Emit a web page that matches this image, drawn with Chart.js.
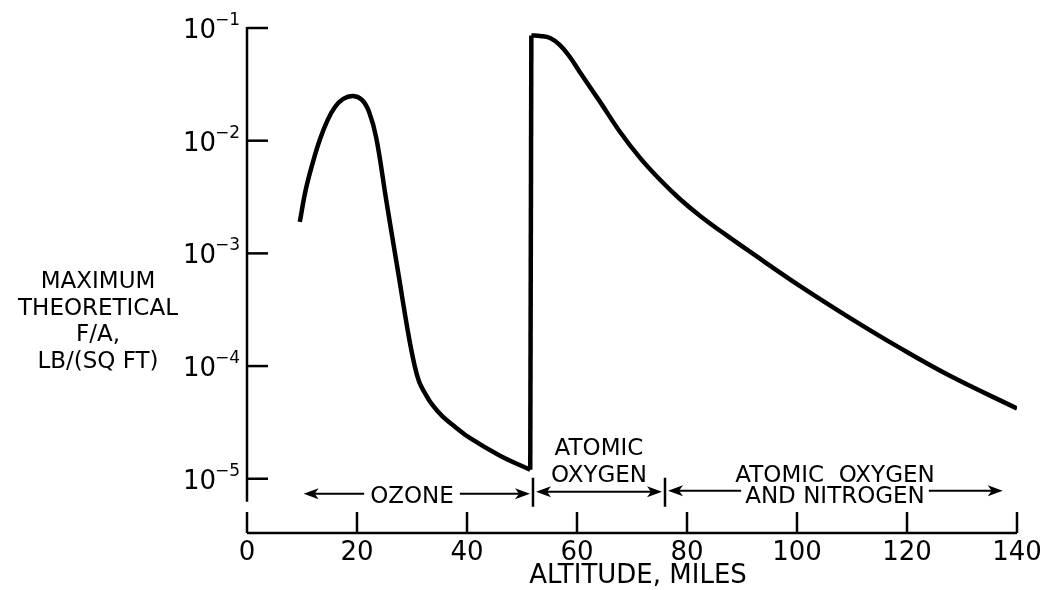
<!DOCTYPE html>
<html>
<head>
<meta charset="utf-8">
<script src="https://cdn.jsdelivr.net/npm/chart.js@4"></script>
<style>
  body { margin: 0; background: #fff; }
  #box { width: 1044px; height: 590px; }
</style>
</head>
<body>
<div id="box"><canvas id="myCanvas"></canvas></div>
<script>
// altitude in miles and maximum theoretical F/A in lb/(sq ft)
let ozoneAltitude = [9.6, 10.7, 12, 13.3, 14.6, 16, 17.5, 19.3, 20.9, 22.2, 23.5, 25.3, 27.5, 29.3, 30.4, 31.3, 32.4, 33.6, 35.5, 37.8, 40.5, 46, 51.5]
let ozoneValue = [1.9e-3, 3.7e-3, 6.5e-3, 0.0104, 0.015, 0.0199, 0.0235, 0.0249, 0.023, 0.018, 0.0106, 3.0e-3, 6.7e-4, 1.97e-4, 1.05e-4, 7.25e-5, 5.7e-5, 4.6e-5, 3.6e-5, 2.9e-5, 2.3e-5, 1.6e-5, 1.2e-5]

let atomicAltitude = [51.7, 53.3, 55.1, 56.9, 58.7, 60.5, 64.2, 67.8, 71.5, 75.1, 78.7, 82.4, 86.9, 91.5, 100.5, 109.6, 118.7, 127.8, 140]
let atomicValue = [0.086, 0.085, 0.0815, 0.0706, 0.0553, 0.0407, 0.0221, 0.012, 7.0e-3, 4.5e-3, 3.04e-3, 2.15e-3, 1.48e-3, 1.03e-3, 5.15e-4, 2.68e-4, 1.45e-4, 8.2e-5, 4.2e-5]

let xTicks = [0, 20, 40, 60, 80, 100, 120, 140]
let yTicks = [1e-1, 1e-2, 1e-3, 1e-4, 1e-5]
let yTickPowers = ["\u22121", "\u22122", "\u22123", "\u22124", "\u22125"]

let yTitle = ["MAXIMUM", "THEORETICAL", "F/A,", "LB/(SQ FT)"]
let xTitle = "ALTITUDE, MILES"

// regions along the altitude axis
let regionNames = [["OZONE"], ["ATOMIC", "OXYGEN"], ["ATOMIC  OXYGEN", "AND NITROGEN"]]
let regionFrom = [10.3, 52, 76]
let regionTo = [52, 76, 137.4]

let font = "'DejaVu Sans', sans-serif"

function arrowHead(ctx, tipX, y, dir) {
    ctx.beginPath()
    ctx.moveTo(tipX, y)
    ctx.lineTo(tipX - dir * 15, y - 5.5)
    ctx.lineTo(tipX - dir * 11, y)
    ctx.lineTo(tipX - dir * 15, y + 5.5)
    ctx.closePath()
    ctx.fill()
}

let axesPlugin = {
    id: "axes",
    afterDraw(chart) {
        let ctx = chart.ctx
        let x = chart.scales.x
        let y = chart.scales.y
        let x0 = x.getPixelForValue(0)
        let bottom = chart.chartArea.bottom
        let yLow = y.getPixelForValue(1e-5)

        ctx.save()
        ctx.strokeStyle = "#000"
        ctx.fillStyle = "#000"
        ctx.lineWidth = 2.5
        ctx.lineCap = "butt"

        // y axis
        ctx.beginPath()
        ctx.moveTo(x0, y.getPixelForValue(0.1) - 1)
        ctx.lineTo(x0, yLow + 23)
        ctx.stroke()
        yTicks.forEach(function (v, i) {
            let py = y.getPixelForValue(v)
            ctx.beginPath()
            ctx.moveTo(x0, py)
            ctx.lineTo(x0 + 21, py)
            ctx.stroke()
            ctx.font = "26px " + font
            ctx.textAlign = "right"
            ctx.textBaseline = "alphabetic"
            ctx.fillText("10", x0 - 31, py + 10)
            ctx.font = "17px " + font
            ctx.textAlign = "left"
            ctx.fillText(yTickPowers[i], x0 - 32, py - 3)
        })

        // x axis
        ctx.beginPath()
        ctx.moveTo(x0, bottom)
        ctx.lineTo(x.getPixelForValue(140), bottom)
        ctx.stroke()
        xTicks.forEach(function (v) {
            let px = x.getPixelForValue(v)
            ctx.beginPath()
            ctx.moveTo(px, bottom - 21)
            ctx.lineTo(px, bottom)
            ctx.stroke()
            ctx.font = "26px " + font
            ctx.textAlign = "center"
            ctx.textBaseline = "alphabetic"
            ctx.fillText(String(v), px, bottom + 27)
        })

        // titles
        ctx.font = "26px " + font
        ctx.textAlign = "center"
        ctx.fillText(xTitle, 638, bottom + 50)
        ctx.font = "23px " + font
        yTitle.forEach(function (t, i) {
            ctx.fillText(t, 98, 288 + i * 26.7)
        })

        // regions with arrows
        let arrowY = [yLow + 15, yLow + 13, yLow + 12]
        ctx.lineWidth = 2
        ctx.font = "23px " + font
        regionNames.forEach(function (names, i) {
            let a = x.getPixelForValue(regionFrom[i])
            let b = x.getPixelForValue(regionTo[i])
            let ay = arrowY[i]
            if (i > 0) {
                ctx.lineWidth = 2.5
                ctx.beginPath()
                ctx.moveTo(a, yLow - 1)
                ctx.lineTo(a, yLow + 28)
                ctx.stroke()
                ctx.lineWidth = 2
                a += 3
            }
            if (i < 2) b -= 3
            ctx.textAlign = "center"
            if (i == 0) {
                let cx = 412
                let w = ctx.measureText(names[0]).width / 2 + 6
                ctx.fillText(names[0], cx, ay + 9)
                ctx.beginPath()
                ctx.moveTo(a + 8, ay)
                ctx.lineTo(cx - w, ay)
                ctx.moveTo(cx + w, ay)
                ctx.lineTo(b - 8, ay)
                ctx.stroke()
            } else if (i == 1) {
                let cx = (a + b) / 2
                ctx.fillText(names[0], cx, ay - 37)
                ctx.fillText(names[1], cx, ay - 10)
                ctx.beginPath()
                ctx.moveTo(a + 8, ay)
                ctx.lineTo(b - 8, ay)
                ctx.stroke()
            } else {
                let cx = 835
                ctx.fillText(names[0], cx, ay - 9)
                ctx.fillText(names[1], cx, ay + 12)
                let w = ctx.measureText(names[1]).width / 2 + 4
                ctx.beginPath()
                ctx.moveTo(a + 8, ay)
                ctx.lineTo(cx - w, ay)
                ctx.moveTo(cx + w, ay)
                ctx.lineTo(b - 8, ay)
                ctx.stroke()
            }
            arrowHead(ctx, a, ay, -1)
            arrowHead(ctx, b, ay, 1)
        })
        ctx.restore()
    }
}

function toPoints(xs, ys) {
    return xs.map(function (a, i) {
        return { x: a, y: ys[i] }
    })
}

let last = ozoneAltitude.length - 1
let curveStyle = {
    borderColor: "#000",
    borderWidth: 4.5,
    borderJoinStyle: "round",
    pointRadius: 0,
    fill: false
}

let chart = new Chart(document.querySelector("#myCanvas").getContext("2d"), {
    type: "line",
    data: {
        datasets: [
            Object.assign({ data: toPoints(ozoneAltitude, ozoneValue), tension: 0.4 }, curveStyle),
            // sharp rise at the start of the atomic oxygen region
            Object.assign({
                data: [{ x: ozoneAltitude[last], y: ozoneValue[last] }, { x: atomicAltitude[0], y: atomicValue[0] }],
                tension: 0
            }, curveStyle),
            Object.assign({ data: toPoints(atomicAltitude, atomicValue), tension: 0.4 }, curveStyle)
        ]
    },
    options: {
        responsive: true,
        maintainAspectRatio: false,
        animation: false,
        layout: { padding: { left: 247, right: 27, top: 28, bottom: 57 } },
        plugins: { legend: { display: false }, tooltip: { enabled: false } },
        scales: {
            x: { type: "linear", min: 0, max: 140, display: false },
            y: { type: "logarithmic", min: 3.3e-6, max: 0.1, display: false }
        }
    },
    plugins: [axesPlugin]
})
</script>
</body>
</html>
